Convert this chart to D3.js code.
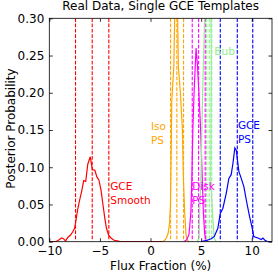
<!DOCTYPE html>
<html>
<head>
<meta charset="utf-8">
<script src="https://cdn.jsdelivr.net/npm/d3@7"></script>
<style>
  body { margin: 0; background: #fff; }
  svg text { font-family: "DejaVu Sans", sans-serif; }
</style>
</head>
<body>
<div id="chart"></div>
<script>
// posterior histograms (flux fraction %, probability)
var gceSmooth = [[-10,0],[-9.4,0],[-9.1,0.002],[-8.8,0.005],[-8.6,0.004],[-8.4,0.001],[-8.15,0.006],[-7.9,0.009],[-7.7,0.013],[-7.5,0.018],[-7.35,0.03],[-7.2,0.043],[-7.0,0.056],[-6.8,0.068],[-6.6,0.082],[-6.4,0.081],[-6.2,0.104],[-5.95,0.114],[-5.75,0.097],[-5.5,0.096],[-5.3,0.087],[-5.1,0.083],[-4.9,0.07],[-4.7,0.05],[-4.5,0.03],[-4.35,0.018],[-4.15,0.009],[-3.9,0.005],[-3.6,0.002],[-3.3,0.001],[-3.0,0],[1.2,0]];
var isoPS = [[1.2,0],[1.4,0.002],[1.6,0.006],[1.75,0.012],[1.88,0.025],[1.97,0.05],[2.04,0.12],[2.1,0.19],[2.3,0.235],[2.55,0.42],[2.75,0.235],[2.95,0.2],[3.15,0.15],[3.25,0.083],[3.38,0.038],[3.5,0.01],[3.6,0.002],[3.8,0]];
var diskPS = [[3.3,0],[3.6,0.003],[3.8,0.01],[3.98,0.038],[4.08,0.083],[4.18,0.15],[4.3,0.2],[4.5,0.26],[4.62,0.24],[4.78,0.2],[4.95,0.15],[5.1,0.09],[5.22,0.04],[5.35,0.01],[5.5,0.002],[5.7,0]];
var bub = [[4.6,0],[4.8,0.005],[4.85,0.038],[4.97,0.083],[5.15,0.2],[5.4,0.33],[5.7,0.5],[5.9,0.4],[6.0,0.25],[5.95,0.083],[6.12,0.038],[6.3,0.004],[6.5,0]];
var gcePS = [[5.0,0],[5.6,0.002],[6.0,0.004],[6.3,0.007],[6.65,0.018],[6.89,0.038],[7.15,0.045],[7.48,0.065],[7.74,0.085],[7.97,0.09],[8.14,0.105],[8.33,0.126],[8.47,0.123],[8.73,0.094],[8.96,0.085],[9.22,0.074],[9.46,0.056],[9.78,0.034],[10.05,0.018],[10.2,0.007],[10.6,0.005],[10.94,0.003],[11.1,0.005],[11.3,0.002],[11.6,0],[12,0]];

// 16/50/84 quantiles
var qSmooth = [-7.41, -5.76, -4.12];
var qIso = [1.98, 2.6, 3.26];
var qDisk = [4.12, 4.75, 5.4];
var qBub = [5.55, 5.8, 6.05];
var qGce = [6.89, 8.57, 10.1];

var xTicks = [-10, -5, 0, 5, 10];
var yTicks = [0, 0.05, 0.10, 0.15, 0.20, 0.25, 0.30];

var series = [
  {name: ["GCE", "Smooth"], data: gceSmooth, q: qSmooth, color: "#ff0000", lx: -3.98, ly: 0.074},
  {name: ["Iso", "PS"], data: isoPS, q: qIso, color: "#ffa500", lx: 0.05, ly: 0.155},
  {name: ["Disk", "PS"], data: diskPS, q: qDisk, color: "#ff00ff", lx: 4.12, ly: 0.074},
  {name: ["Bub"], data: bub, q: qBub, color: "#90ee90", lx: 6.3, ly: 0.256},
  {name: ["GCE", "PS"], data: gcePS, q: qGce, color: "#0000ff", lx: 8.63, ly: 0.156}
];

var margin = {top: 18.3, right: 6, bottom: 34.3, left: 49.3},
    width = 278 - margin.left - margin.right,
    height = 276 - margin.top - margin.bottom;

var root = d3.select("#chart")
  .append("svg")
    .attr("width", 278)
    .attr("height", 276);

var svg = root.append("g")
    .attr("transform", "translate(" + margin.left + "," + margin.top + ")");

var x = d3.scaleLinear().domain([-10, 12]).range([0, width]);
var y = d3.scaleLinear().domain([0, 0.30]).range([height, 0]);

svg.append("clipPath").attr("id", "clip")
  .append("rect").attr("width", width).attr("height", height);

var plot = svg.append("g").attr("clip-path", "url(#clip)");

var line = d3.line()
    .x(function(d) { return x(d[0]); })
    .y(function(d) { return y(d[1]); });

series.forEach(function(s) {
  plot.append("path")
    .datum(s.data)
    .attr("d", line)
    .attr("fill", "none")
    .attr("stroke", s.color)
    .attr("stroke-width", 1.2);

  plot.selectAll(null)
    .data(s.q)
    .enter().append("line")
      .attr("x1", function(d) { return x(d); })
      .attr("x2", function(d) { return x(d); })
      .attr("y1", 0)
      .attr("y2", height)
      .attr("stroke", s.color)
      .attr("stroke-width", 1.1)
      .attr("stroke-dasharray", "3.7,1.6");
});

// labels
series.forEach(function(s) {
  var t = svg.append("text")
    .attr("x", x(s.lx))
    .attr("y", y(s.ly))
    .attr("fill", s.color)
    .style("font-size", "10.5px");
  s.name.forEach(function(n, i) {
    t.append("tspan")
      .attr("x", x(s.lx))
      .attr("dy", i == 0 ? "0.35em" : "14")
      .text(n);
  });
});

// axes, ticks pointing inward on all four sides
function styleAxis(g) {
  g.select(".domain").remove();
  g.selectAll("line").attr("stroke", "#000").attr("stroke-width", 0.8);
  g.selectAll("text").style("font-size", "12px").attr("fill", "#000");
}

svg.append("g")
    .attr("transform", "translate(0," + height + ")")
    .call(d3.axisBottom(x).tickValues(xTicks).tickSize(-3.5).tickPadding(4.5))
    .call(styleAxis);

svg.append("g")
    .call(d3.axisTop(x).tickValues(xTicks).tickSize(-3.5).tickFormat(""))
    .call(styleAxis);

svg.append("g")
    .call(d3.axisLeft(y).tickValues(yTicks).tickSize(-3.5).tickPadding(5).tickFormat(d3.format(".2f")))
    .call(styleAxis);

svg.append("g")
    .attr("transform", "translate(" + width + ",0)")
    .call(d3.axisRight(y).tickValues(yTicks).tickSize(-3.5).tickFormat(""))
    .call(styleAxis);

svg.append("rect")
    .attr("width", width)
    .attr("height", height)
    .attr("fill", "none")
    .attr("stroke", "#000")
    .attr("stroke-width", 0.8);

svg.append("text")
    .attr("x", width / 2)
    .attr("y", -8)
    .attr("text-anchor", "middle")
    .style("font-size", "12px")
    .text("Real Data, Single GCE Templates");

svg.append("text")
    .attr("x", width / 2)
    .attr("y", height + 28)
    .attr("text-anchor", "middle")
    .style("font-size", "12px")
    .text("Flux Fraction (%)");

svg.append("text")
    .attr("transform", "rotate(-90)")
    .attr("x", -height / 2 + 1.5)
    .attr("y", -margin.left + 14.5)
    .attr("text-anchor", "middle")
    .style("font-size", "12px")
    .text("Posterior Probability");
</script>
</body>
</html>
